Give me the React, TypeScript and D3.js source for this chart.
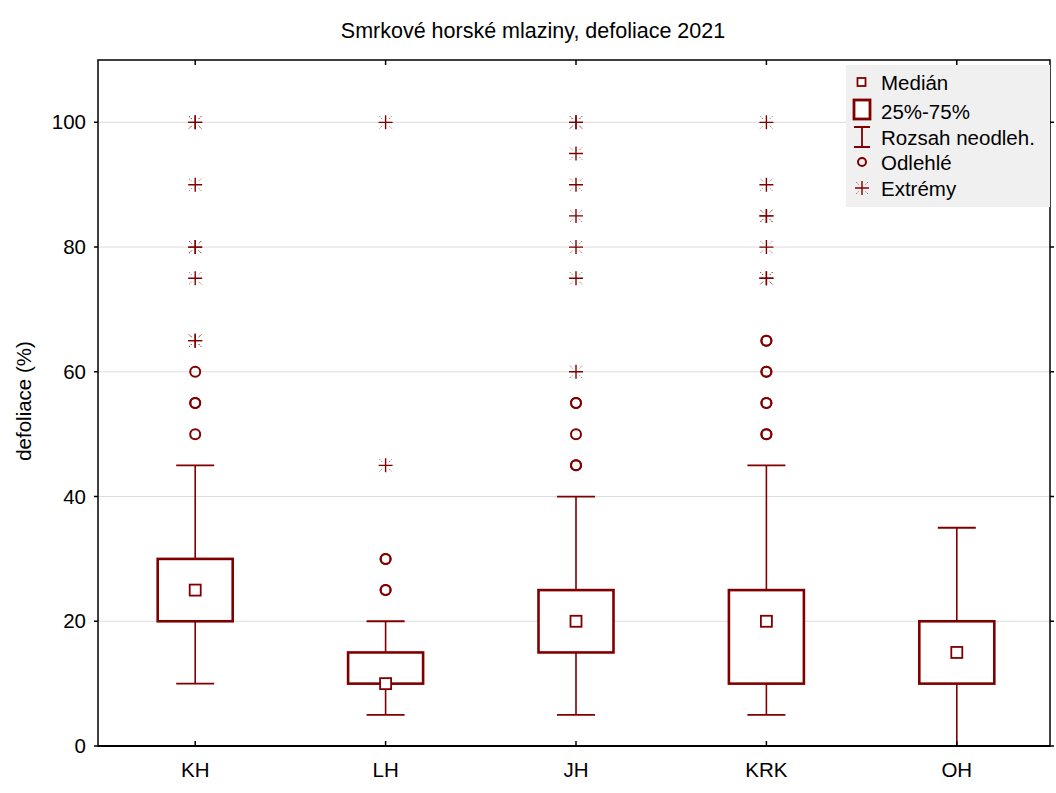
import React, { useEffect, useRef } from 'react';
import * as d3 from 'd3';

const categories = ['KH', 'LH', 'JH', 'KRK', 'OH'];
const medians = [25, 10, 20, 20, 15];
const q1 = [20, 10, 15, 10, 10];
const q3 = [30, 15, 25, 25, 20];
const whiskerLow = [10, 5, 5, 5, 0];
const whiskerHigh = [45, 20, 40, 45, 35];
// repeated values = several stations with the same value (drawn on top of each other)
const outliers = [
	[50, 55, 55, 60],
	[25, 25, 30, 30],
	[45, 45, 50, 55, 55],
	[50, 50, 55, 55, 60, 60, 65, 65],
	[],
];
const extremes = [
	[65, 65, 75, 80, 80, 90, 100, 100],
	[45, 100],
	[60, 75, 80, 85, 90, 95, 100, 100],
	[75, 75, 80, 85, 85, 90, 100],
	[],
];
const yTicks = [0, 20, 40, 60, 80, 100];
const legendLabels = ['Medián', '25%-75%', 'Rozsah neodleh.', 'Odlehlé', 'Extrémy'];

const W = 1056;
const H = 793;
const red = '#800000';
const font = '"Liberation Sans", Arial, sans-serif';
const fs = 20.5;
const plot = { left: 98, right: 1050, top: 60, bottom: 746 };

const drawStar = (g, x, y) => {
	const s = g.append('g').attr('transform', `translate(${ x },${ y })`);
	s.append('path')
		.attr('d', 'M-7,0H7M0,-7V7')
		.attr('stroke', red)
		.attr('stroke-width', 1.4);
	s.append('path')
		.attr('d', 'M3.5,3.5L6.5,6.5M-3.5,3.5L-6.5,6.5M3.5,-3.5L6.5,-6.5M-3.5,-3.5L-6.5,-6.5')
		.attr('stroke', red)
		.attr('stroke-width', 1)
		.attr('stroke-dasharray', '1.2,1.2')
		.attr('opacity', 0.65);
};

const drawChart = (ref) => {
	const svg = d3.select(ref.current);
	svg.selectAll('*').remove();

	const x = d3.scaleBand().domain(categories)
		.range([plot.left + 2, plot.right + 2]);
	const y = d3.scaleLinear().domain([0, 110])
		.range([plot.bottom, plot.top]);
	const cx = (c) => x(c) + (x.bandwidth() / 2);

	// grid
	svg.append('g')
		.selectAll('line')
		.data(yTicks.filter((t) => t > 0))
		.join('line')
		.attr('x1', plot.left)
		.attr('x2', plot.right)
		.attr('y1', (d) => y(d))
		.attr('y2', (d) => y(d))
		.attr('stroke', '#dcdcdc')
		.attr('stroke-width', 1);

	// title + labels
	svg.append('text')
		.attr('x', 533)
		.attr('y', 38)
		.attr('text-anchor', 'middle')
		.attr('font-family', font)
		.attr('font-size', 21.5)
		.text('Smrkové horské mlaziny, defoliace 2021');

	svg.append('text')
		.attr('transform', `translate(31,${ 401 }) rotate(-90)`)
		.attr('text-anchor', 'middle')
		.attr('font-family', font)
		.attr('font-size', fs)
		.text('defoliace (%)');

	svg.append('g')
		.selectAll('text')
		.data(yTicks)
		.join('text')
		.attr('x', plot.left - 12)
		.attr('y', (d) => y(d) + 7)
		.attr('text-anchor', 'end')
		.attr('font-family', font)
		.attr('font-size', fs)
		.text((d) => d);

	svg.append('g')
		.selectAll('text')
		.data(categories)
		.join('text')
		.attr('x', (d) => cx(d))
		.attr('y', 777)
		.attr('text-anchor', 'middle')
		.attr('font-family', font)
		.attr('font-size', fs)
		.text((d) => d);

	// boxes
	const boxW = 75;
	const capW = 38;
	const boxes = svg.append('g');

	categories.forEach((c, i) => {
		const g = boxes.append('g');
		const xc = cx(c);

		g.append('path')
			.attr('d', `M${ xc },${ y(whiskerLow[i]) }V${ y(q1[i]) }M${ xc },${ y(q3[i]) }V${ y(whiskerHigh[i]) }`)
			.attr('stroke', red)
			.attr('stroke-width', 1.6);
		g.append('path')
			.attr('d', `M${ xc - capW / 2 },${ y(whiskerLow[i]) }H${ xc + capW / 2 }M${ xc - capW / 2 },${ y(whiskerHigh[i]) }H${ xc + capW / 2 }`)
			.attr('stroke', red)
			.attr('stroke-width', 1.8);
		g.append('rect')
			.attr('x', xc - boxW / 2)
			.attr('y', y(q3[i]))
			.attr('width', boxW)
			.attr('height', y(q1[i]) - y(q3[i]))
			.attr('fill', 'white')
			.attr('stroke', red)
			.attr('stroke-width', 2.6);
		g.append('rect')
			.attr('x', xc - 5.5)
			.attr('y', y(medians[i]) - 5.5)
			.attr('width', 11)
			.attr('height', 11)
			.attr('fill', 'white')
			.attr('stroke', red)
			.attr('stroke-width', 1.8);

		outliers[i].forEach((v) => {
			g.append('circle')
				.attr('cx', xc)
				.attr('cy', y(v))
				.attr('r', 5)
				.attr('fill', 'none')
				.attr('stroke', red)
				.attr('stroke-width', 2);
		});
		extremes[i].forEach((v) => drawStar(g, xc, y(v)));
	});

	// frame
	svg.append('rect')
		.attr('x', plot.left)
		.attr('y', plot.top)
		.attr('width', plot.right - plot.left)
		.attr('height', plot.bottom - plot.top)
		.attr('fill', 'none')
		.attr('stroke', '#000')
		.attr('stroke-width', 1.5);
	svg.append('line')
		.attr('x1', plot.left)
		.attr('x2', plot.right)
		.attr('y1', plot.bottom)
		.attr('y2', plot.bottom)
		.attr('stroke', '#000')
		.attr('stroke-width', 2.2);

	const ticks = svg.append('g').attr('stroke', '#000')
		.attr('stroke-width', 1.5);
	categories.forEach((c) => {
		ticks.append('path').attr('d', `M${ cx(c) },${ plot.bottom }v-5M${ cx(c) },${ plot.top }v5`);
	});
	yTicks.forEach((t) => {
		ticks.append('path').attr('d', `M${ plot.left },${ y(t) }h-4M${ plot.right },${ y(t) }h4`);
	});

	// legend
	const lg = svg.append('g').attr('transform', 'translate(846,65)');
	lg.append('rect')
		.attr('width', 204)
		.attr('height', 142)
		.attr('fill', '#f0f0f0');
	const baselines = [25, 54, 80, 105, 131];
	lg.selectAll('text')
		.data(legendLabels)
		.join('text')
		.attr('x', 35)
		.attr('y', (d, i) => baselines[i])
		.attr('font-family', font)
		.attr('font-size', fs)
		.text((d) => d);

	const sx = 16;
	lg.append('rect')
		.attr('x', sx - 4.5)
		.attr('y', 13)
		.attr('width', 8)
		.attr('height', 8)
		.attr('fill', 'white')
		.attr('stroke', red)
		.attr('stroke-width', 1.8);
	lg.append('rect')
		.attr('x', sx - 8)
		.attr('y', 35)
		.attr('width', 16)
		.attr('height', 19)
		.attr('fill', 'white')
		.attr('stroke', red)
		.attr('stroke-width', 2.8);
	lg.append('path')
		.attr('d', `M${ sx - 8 },${ 62 }h16M${ sx },${ 62 }v20M${ sx - 8 },${ 82 }h16`)
		.attr('stroke', red)
		.attr('stroke-width', 1.8);
	lg.append('circle')
		.attr('cx', sx)
		.attr('cy', 97)
		.attr('r', 4)
		.attr('fill', 'none')
		.attr('stroke', red)
		.attr('stroke-width', 2);
	drawStar(lg, sx, 123);
};

const App = () => {
	const ref = useRef(null);

	useEffect(() => drawChart(ref), []);

	return (
		<svg ref={ ref } width={ W } height={ H }
			style={ { position: 'absolute', left: 0, top: 0, background: 'white' } }/>
	);
};

export default App;
